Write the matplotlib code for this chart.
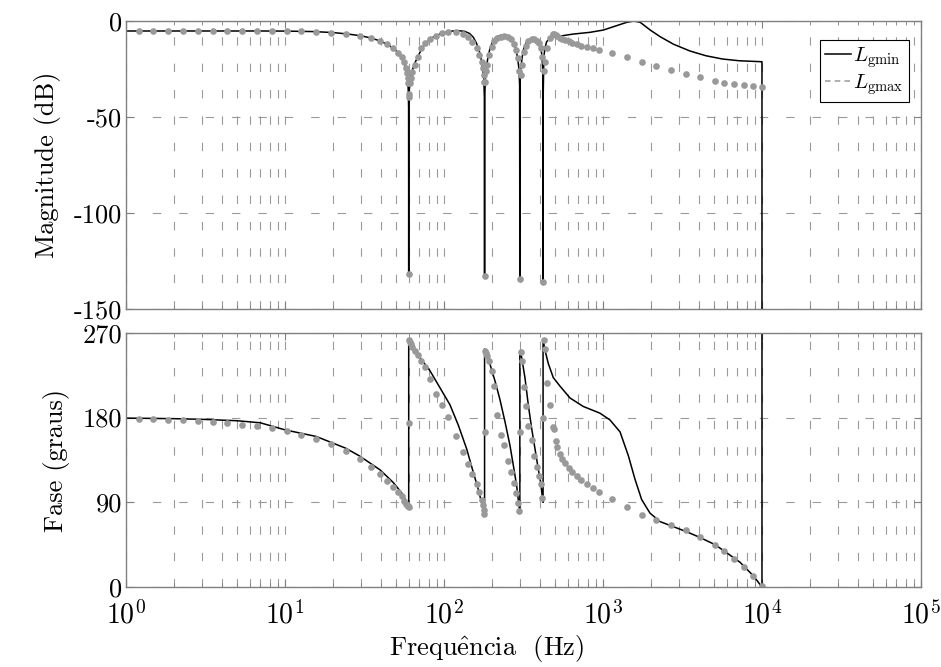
import matplotlib
matplotlib.use("Agg")
import matplotlib.pyplot as plt
from matplotlib.lines import Line2D
from matplotlib.ticker import LogLocator, FixedLocator, FixedFormatter, NullFormatter

plt.rcParams['font.family'] = ['cmr10', 'DejaVu Serif']
plt.rcParams['mathtext.fontset'] = 'cm'
plt.rcParams['axes.formatter.use_mathtext'] = True
plt.rcParams['axes.unicode_minus'] = False
plt.rcParams['lines.scale_dashes'] = False

# ---------------- data ----------------
# L_gmin (continuous black line)
line_freq = [1, 2, 3, 5, 7, 10, 15, 20, 25, 30, 35, 40, 45, 50, 54, 56.5, 58, 59, 59.6, 59.9, 60,
             60.1, 60.5, 61.5, 63, 65.5, 69, 73, 78, 85, 95, 108, 122, 135, 145, 153, 160, 166, 171,
             175, 178, 179.5, 180, 180.5, 182, 185, 189, 195, 202, 212, 228, 247, 262, 274, 283,
             291, 296, 299, 300, 301, 304, 310, 318, 330, 350, 372, 388, 400, 408, 414, 418, 419.5,
             420, 420.5, 425, 435, 442, 464, 499, 562, 650, 828, 1006, 1221, 1409, 1566, 1716, 1982,
             2292, 2780, 3520, 4445, 5654, 7190, 9940, 10000, 10000]
line_mag = [-5.2, -5.2, -5.2, -5.2, -5.2, -5.25, -5.5, -6.0, -6.8, -7.7, -8.9, -10.5, -12.6, -15.5,
            -19, -22.5, -26, -30, -36, -45, -132,
            -45, -36, -30, -26, -22, -18, -14, -11, -8.5, -6.6, -5.4, -5.0, -5.4, -6.5, -8.5, -11.5,
            -15, -19.5, -24, -30, -40, -133, -40, -30, -24, -19, -14, -11, -8.5, -7.4, -7.3, -8.5,
            -11, -14.5, -19.5, -25, -33, -134.5, -33, -25, -19, -14, -11, -9.2, -8.7, -9.5, -11.5,
            -14.5, -19, -26, -35, -135.7, -40, -18, -13, -10.8, -9.0, -8.2, -7.6, -6.8, -5.9, -4.7,
            -2.4, -0.7, 0, -0.7, -4.7, -8.2, -12.1, -15.6, -18.1, -19.8, -20.7, -21.2, -21.2, -300]

phase_freq = [1, 2, 3, 5, 7, 10, 15.7, 24.1, 29.6, 39.6, 48, 54.2, 57.5, 59.3, 60, 60, 65, 70.6,
              81.7, 94.4, 109, 123, 138.8, 153, 164.4, 172.6, 178, 180, 180, 185, 194.6, 209.4,
              225, 241.9, 260, 275.5, 286.6, 295, 300, 300, 308, 323, 339, 356, 373.6, 391.8,
              405.7, 415, 420, 420, 431.6, 453, 487, 536.6, 620, 751, 958, 1107, 1280, 1443, 1590,
              1751, 1975, 2283, 2768, 3361, 4074, 5063, 5910, 7273, 8817, 10000, 10000]
phase_line = [179.5, 178.9, 178.2, 176.7, 174.5, 167, 160, 147.5, 139, 124.5, 111, 100, 92, 86.5,
              84, 263, 254, 244, 229.7, 211.7, 193.7, 172.1, 146.9, 121.7, 103.7, 89.3, 80, 78,
              253, 247, 236.9, 218.9, 199.1, 175.7, 150.5, 125.3, 107.3, 89.3, 78, 251, 244, 222.5,
              193.7, 168.5, 146.9, 125.3, 110.9, 96.5, 90, 263, 251.9, 237.5, 222.5, 213.5, 200.9,
              191.9, 184.7, 177.5, 164.9, 139.7, 114.5, 92.9, 78.5, 69.5, 64.1, 58.7, 52.6, 45,
              37.1, 26.3, 11.9, 0, 400]

# L_gmax (gray dots)
dot_freq = [1.21, 1.48, 1.84, 2.28, 2.82, 3.51, 4.34, 5.39, 6.64, 8.25, 10.25, 12.7, 15.7, 19.4,
            24.1, 29.6, 34.6, 39.6, 43.9, 48.0, 51.5, 54.2, 56.3, 57.7, 58.5, 59.2, 59.6, 59.9, 60.0,
            60.3, 61.0, 62.0, 63.3, 65.5, 68.6, 72.0, 75.6, 81.7, 89.1, 96.7, 106.4, 119, 131, 142,
            151, 160.6, 166.7, 172.6, 175.5, 177.8, 179.2, 180,
            181, 183.5, 187.3, 192.7, 199.6, 206.8, 214.5, 228, 240, 254, 265, 277, 285.4, 292.4,
            297, 300,
            303.5, 309.5, 317, 326, 340, 356, 368, 383, 397.6, 406, 415, 420,
            425.6, 433.6, 447, 464, 482.6, 492, 504, 516, 536.6, 554.6, 579.6, 611, 635, 683, 730.6,
            790, 861, 944, 1134, 1409, 1751, 2153, 2678, 3313, 4093, 5063, 5794, 6694, 7709, 8817,
            10000]
dot_mag = [-5.2, -5.2, -5.2, -5.2, -5.2, -5.2, -5.2, -5.2, -5.2, -5.2, -5.25, -5.35, -5.6, -6.0,
           -6.7, -7.7, -9.0, -10.4, -12.1, -14.2, -16.5, -18.9, -21.5, -24.3, -27.2, -29.8, -32.4,
           -39.4, -131.6,
           -38, -32.4, -29.8, -26.4, -22.9, -18.6, -14.2, -11.6, -9.4, -7.6, -6.4, -5.6, -5.9, -6.6,
           -8.2, -10.8, -14.2, -17.7, -21.2, -24.6, -28, -31.6, -132.8,
           -32, -26, -22.9, -17.7, -13.4, -10.5, -9.0, -8.2, -8.0, -8.4, -9.6, -12, -15.1, -19.4,
           -26, -134.5,
           -28, -22.9, -16.2, -12.8, -10.6, -9.5, -9.6, -10.2, -11.6, -14, -18.5, -135.7,
           -26, -21.2, -14, -8.7, -6.9, -7.0, -7.4, -8.0, -8.8, -9.2, -9.8, -10.6, -11.2, -12.1,
           -12.8, -13.7, -14.2, -14.9, -16.8, -18.9, -21.2, -23.4, -25.7, -27.8, -29.3, -31.1,
           -32.1, -32.8, -33.5, -33.9, -34.2]
dot_phase = [178.6, 178.2, 177.8, 177.1, 176.4, 175.3, 173.9, 172.4, 170.6, 168.5, 165.6, 162,
             157.7, 151.6, 144.4, 136.1, 127.8, 119.9, 112.7, 106.2, 101.2, 96.5, 91.8, 88.2, 87,
             86.3, 85.8, 85.3, 174,
             262.8, 260.3, 258, 255, 251, 247, 240.5, 234, 221, 205, 193, 181, 160, 143.3, 130.7,
             120.6, 109.1, 100.8, 92.9, 86.8, 82.1, 77.8, 164.9,
             251.3, 248.5, 245.9, 240.5, 229.7, 213.5, 182.9, 161.3, 150.5, 134.3, 121.7, 110.9,
             100.1, 89.3, 80.3, 164.9,
             249.5, 240.5, 212.4, 192.6, 171, 155.9, 139, 127.1, 118.1, 109.1, 94.7, 179.3,
             262.1, 253.1, 217.1, 193.7, 170.3, 167.4, 154.8, 148.7, 141.5, 136.1, 131.4, 126,
             121.7, 118.1, 113.8, 109.8, 105.5, 101.2, 93.6, 84.6, 76.7, 71.3, 65.9, 60.5, 53.3,
             45, 38.2, 29.9, 21.6, 11.9, 1.1]

mag_ticks = [-150, -100, -50, 0]
mag_ticklabels = ['-150', '-100', '-50', '0']
phase_ticks = [0, 90, 180, 270]
phase_ticklabels = ['0', '90', '180', '270']
legend_labels = [r'$L_{\mathrm{gmin}}$', r'$L_{\mathrm{gmax}}$']

# ---------------- style ----------------
spine_col = '#808080'
grid_col = '#9a9a9a'
dot_col = '#999999'
dash = (0, (6, 13))
fs = 19

fig = plt.figure(figsize=(9.41, 6.67), dpi=100)
ax1 = fig.add_axes([0.1339, 0.5367, 0.8448, 0.4318])
ax2 = fig.add_axes([0.1339, 0.1200, 0.8448, 0.3808])


def style(ax):
    ax.set_xscale('log')
    ax.set_xlim(1, 1e5)
    ax.xaxis.set_major_locator(LogLocator(base=10, numticks=10))
    ax.xaxis.set_minor_locator(LogLocator(base=10, subs=range(2, 10), numticks=20))
    ax.xaxis.set_minor_formatter(NullFormatter())
    ax.grid(True, which='major', axis='both', color=grid_col, linestyle=dash, linewidth=0.8)
    ax.grid(True, which='minor', axis='x', color=grid_col, linestyle=dash, linewidth=0.8)
    for s in ax.spines.values():
        s.set_color(spine_col)
        s.set_linewidth(1.0)
    ax.tick_params(which='both', direction='in', top=True, right=True, color=spine_col,
                   labelsize=fs, labelcolor='black')
    ax.tick_params(which='major', length=5)
    ax.tick_params(which='minor', length=3)
    ax.tick_params(axis='y', pad=3)
    ax.set_axisbelow(True)


style(ax1)
style(ax2)

ax1.plot(line_freq, line_mag, color='black', linewidth=1.1)
ax1.plot(dot_freq, dot_mag, linestyle='none', marker='o', markersize=4.8, color=dot_col,
         markeredgewidth=0)
ax1.set_ylim(-150, 0)
ax1.yaxis.set_major_locator(FixedLocator(mag_ticks))
ax1.yaxis.set_major_formatter(FixedFormatter(mag_ticklabels))
ax1.tick_params(axis='x', which='both', labelbottom=False)
ax1.set_ylabel('Magnitude (dB)', fontsize=fs, labelpad=9)

ax2.plot(phase_freq, phase_line, color='black', linewidth=1.1)
ax2.plot(dot_freq, dot_phase, linestyle='none', marker='o', markersize=4.8, color=dot_col,
         markeredgewidth=0)
ax2.set_ylim(0, 270)
ax2.yaxis.set_major_locator(FixedLocator(phase_ticks))
ax2.yaxis.set_major_formatter(FixedFormatter(phase_ticklabels))
ax2.tick_params(axis='x', which='major', pad=10, labelsize=20)
ax2.set_ylabel('Fase (graus)', fontsize=fs, labelpad=9)
ax2.set_xlabel(r'Frequ$\hat{\mathrm{e}}$ncia  (Hz)', fontsize=fs)
ax2.xaxis.set_label_coords(0.454, -0.18)

handles = [Line2D([], [], color='black', linewidth=1.1),
           Line2D([], [], color=dot_col, linewidth=1.1, linestyle=(0, (4, 3)))]
leg = ax1.legend(handles, legend_labels, loc='upper right', fontsize=15, frameon=True,
                 fancybox=False, edgecolor='black', framealpha=1, handlelength=1.25,
                 handletextpad=0.1, borderpad=0.25, labelspacing=0.1, borderaxespad=0,
                 bbox_to_anchor=(0.985, 0.935))
leg.get_frame().set_linewidth(0.8)

fig.savefig('out.png', dpi=100)
